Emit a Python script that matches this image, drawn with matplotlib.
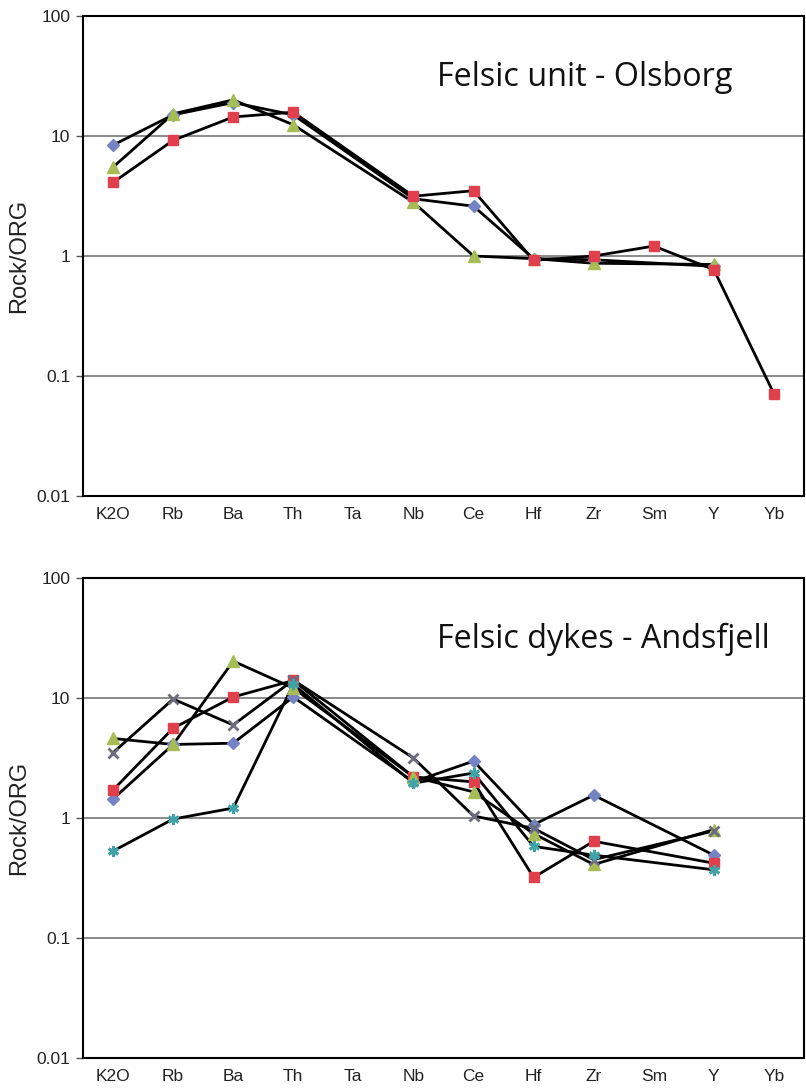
import numpy as np
import matplotlib
matplotlib.use('Agg')
import matplotlib.pyplot as plt

plt.rcParams['font.family'] = ['Liberation Sans', 'DejaVu Sans']

elements = ['K2O', 'Rb', 'Ba', 'Th', 'Ta', 'Nb', 'Ce', 'Hf', 'Zr', 'Sm', 'Y', 'Yb']
nan = np.nan

# Felsic unit - Olsborg
olsborg_blue = [8.4, 15.0, 19.0, 15.0, nan, 3.0, 2.6, 0.95, 0.93, nan, 0.82, nan]
olsborg_red = [4.1, 9.2, 14.4, 15.8, nan, 3.15, 3.5, 0.92, 1.0, 1.21, 0.77, 0.071]
olsborg_green = [5.5, 15.3, 20.0, 12.4, nan, 2.8, 1.0, 0.95, 0.87, nan, 0.85, nan]

# Felsic dykes - Andsfjell
ands_blue = [1.44, 4.1, 4.2, 10.2, nan, 2.0, 2.98, 0.88, 1.55, nan, 0.49, nan]
ands_red = [1.71, 5.6, 10.2, 14.0, nan, 2.2, 2.0, 0.32, 0.64, nan, 0.42, nan]
ands_green = [4.6, 4.1, 20.3, 12.1, nan, 2.2, 1.65, 0.74, 0.41, nan, 0.80, nan]
ands_gray = [3.5, 9.8, 5.96, 14.1, nan, 3.16, 1.04, 0.82, 0.45, nan, 0.78, nan]
ands_teal = [0.53, 0.98, 1.21, 13.0, nan, 1.95, 2.37, 0.58, 0.49, nan, 0.37, nan]

blue = '#7383c4'
red = '#e0404c'
green = '#a6bd55'
gray = '#6c6c80'
teal = '#3fa3a8'

fig = plt.figure(figsize=(8.06, 10.88), dpi=100)
ax1 = fig.add_axes([83/806, 1-496/1088, 721/806, 480/1088])
ax2 = fig.add_axes([83/806, 1-1058/1088, 721/806, 480/1088])

x = np.arange(len(elements))
asterisk = (6, 2, 0)

def draw(ax, series, title):
    for vals, col, mk, ms in series:
        v = np.array(vals, dtype=float)
        ok = ~np.isnan(v)
        ax.plot(x[ok], v[ok], color='black', lw=2, zorder=3)
        if mk in ('x', asterisk):
            ax.plot(x[ok], v[ok], ls='none', marker=mk, ms=ms, mec=col, mew=2, zorder=4)
        else:
            ax.plot(x[ok], v[ok], ls='none', marker=mk, ms=ms, mfc=col, mec=col, zorder=4)
    ax.set_yscale('log')
    ax.set_ylim(0.01, 100)
    ax.set_xlim(-0.5, 11.5)
    ax.set_yticks([0.01, 0.1, 1, 10, 100])
    ax.set_yticklabels(['0.01', '0.1', '1', '10', '100'])
    ax.yaxis.set_minor_locator(matplotlib.ticker.NullLocator())
    ax.set_xticks(x)
    ax.set_xticklabels(elements)
    ax.tick_params(axis='x', length=0, pad=8, labelsize=12.5, colors='#222222')
    ax.tick_params(axis='y', length=5, width=1, color='#555555', pad=4, labelsize=12.5, labelcolor='#222222')
    ax.grid(axis='y', color='#777777', lw=1.2)
    ax.set_axisbelow(True)
    for s in ax.spines.values():
        s.set_color('black')
        s.set_linewidth(1.5)
    ax.set_ylabel('Rock/ORG', fontsize=17, labelpad=5, color='#222222')
    ax.text(0.491, 0.872, title, transform=ax.transAxes, ha='left', va='center',
            fontsize=23.3, family=['Open Sans', 'DejaVu Sans'], color='#111111')

draw(ax1, [(olsborg_blue, blue, 'D', 6),
           (olsborg_green, green, '^', 8),
           (olsborg_red, red, 's', 7)], 'Felsic unit - Olsborg')

draw(ax2, [(ands_blue, blue, 'D', 6),
           (ands_red, red, 's', 7),
           (ands_green, green, '^', 8),
           (ands_gray, gray, 'x', 7),
           (ands_teal, teal, asterisk, 8)], 'Felsic dykes - Andsfjell')

fig.savefig('out.png', dpi=100)
